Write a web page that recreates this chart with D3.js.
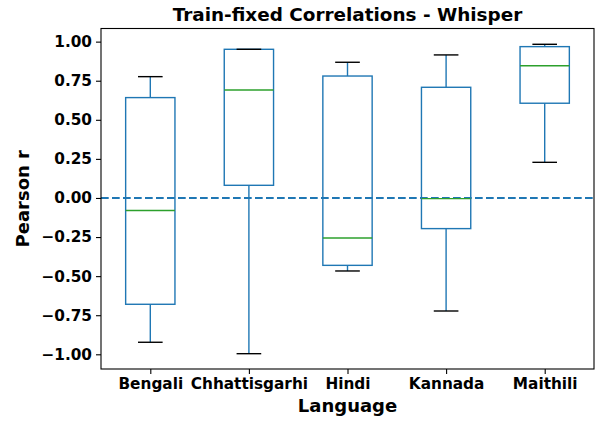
<!DOCTYPE html>
<html><head><meta charset="utf-8">
<script src="https://cdn.jsdelivr.net/npm/d3@7"></script>
<style>body{margin:0;background:#fff}svg{display:block}text{font-family:"DejaVu Sans",sans-serif;font-weight:bold}</style>
</head><body>
<script>
const categories = ["Bengali","Chhattisgarhi","Hindi","Kannada","Maithili"];
const whiskerLow  = [-0.923, -0.996, -0.467, -0.723, 0.228];
const q1          = [-0.680,  0.081, -0.431, -0.196, 0.606];
const median      = [-0.080,  0.691, -0.256, -0.004, 0.846];
const q3          = [ 0.642,  0.951,  0.780,  0.708, 0.968];
const whiskerHigh = [ 0.776,  0.951,  0.868,  0.915, 0.983];
const yTicks = [-1.0,-0.75,-0.5,-0.25,0,0.25,0.5,0.75,1.0];
const title = "Train-fixed Correlations - Whisper";
const xLabel = "Language", yLabel = "Pearson r";

const W=597,H=423, L=101,R=594,T=28.5,B=369;
const svg=d3.select("body").append("svg").attr("width",W).attr("height",H);
const x=d3.scaleLinear().domain([0.5,5.5]).range([L,R]);
const y=d3.scaleLinear().domain([-1.094,1.084]).range([B,T]);

// dashed zero line
svg.append("line").attr("x1",L).attr("x2",R).attr("y1",y(0)).attr("y2",y(0))
  .attr("stroke","#1f77b4").attr("stroke-width",2).attr("stroke-dasharray","7.7,3.3");

const g=svg.append("g");
categories.forEach((c,i)=>{
  const cx=x(i+1), bw=x(1.25)-x(1), cw=x(1.125)-x(1);
  const blue="#1f77b4";
  g.append("line").attr("x1",cx).attr("x2",cx).attr("y1",y(q3[i])).attr("y2",y(whiskerHigh[i])).attr("stroke",blue).attr("stroke-width",1.4);
  g.append("line").attr("x1",cx).attr("x2",cx).attr("y1",y(q1[i])).attr("y2",y(whiskerLow[i])).attr("stroke",blue).attr("stroke-width",1.4);
  g.append("rect").attr("x",cx-bw).attr("width",2*bw).attr("y",y(q3[i])).attr("height",y(q1[i])-y(q3[i]))
    .attr("fill","none").attr("stroke",blue).attr("stroke-width",1.4);
  g.append("line").attr("x1",cx-bw).attr("x2",cx+bw).attr("y1",y(median[i])).attr("y2",y(median[i])).attr("stroke","#2ca02c").attr("stroke-width",1.4);
  [whiskerLow[i],whiskerHigh[i]].forEach(v=>{
    g.append("line").attr("x1",cx-cw).attr("x2",cx+cw).attr("y1",y(v)).attr("y2",y(v)).attr("stroke","#000").attr("stroke-width",1.4);
  });
});

// axes
const yAxis=d3.axisLeft(y).tickValues(yTicks).tickFormat(d=>d3.format(".2f")(d).replace("-","\u2212")).tickSize(5).tickPadding(4);
const ya=svg.append("g").attr("transform",`translate(${L},0)`).call(yAxis);
const xAxis=d3.axisBottom(x).tickValues(d3.range(1,categories.length+1)).tickFormat(d=>categories[d-1]).tickSize(5).tickPadding(4);
const xa=svg.append("g").attr("transform",`translate(0,${B})`).call(xAxis);
[ya,xa].forEach(a=>{a.select(".domain").remove();a.selectAll("line").attr("stroke","#000").attr("stroke-width",1.1);
  a.selectAll("text").attr("font-size",15.3).attr("fill","#000").attr("font-family","DejaVu Sans").attr("font-weight","bold");});

svg.append("rect").attr("x",L).attr("y",T).attr("width",R-L).attr("height",B-T).attr("fill","none").attr("stroke","#000").attr("stroke-width",1.1);

svg.append("text").attr("x",(L+R)/2).attr("y",20.7).attr("text-anchor","middle").attr("font-size",18.4).text(title);
svg.append("text").attr("x",(L+R)/2).attr("y",412).attr("text-anchor","middle").attr("font-size",18).text(xLabel);
svg.append("text").attr("transform",`translate(28.5,${(T+B)/2}) rotate(-90)`).attr("text-anchor","middle").attr("font-size",18).text(yLabel);
</script>
</body></html>
